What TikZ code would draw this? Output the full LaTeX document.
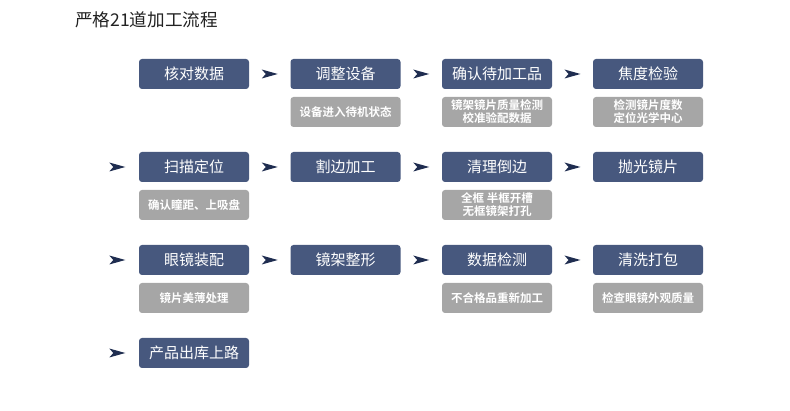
\documentclass[tikz,border=0pt]{standalone}
\usepackage{fontspec}
\setmainfont{Noto Sans CJK SC}
\newfontfamily\cjkb{Noto Sans CJK SC Bold}
\usetikzlibrary{calc}
\definecolor{mainc}{HTML}{47587E}
\definecolor{subc}{HTML}{A6A6A6}
\definecolor{arrc}{HTML}{1F2D50}
\definecolor{titc}{HTML}{222222}
\tikzset{
  mainbox/.style={fill=mainc, rounded corners=3pt, minimum width=110pt, minimum height=30pt, text=white, font=\fontsize{15}{17}\selectfont, inner sep=0pt},
  subbox/.style={fill=subc, rounded corners=3pt, minimum width=110pt, minimum height=30pt, text=white, font=\cjkb\fontsize{11.5}{13}\selectfont, inner sep=0pt, align=center},
}
\newcommand{\arrhead}[1]{\fill[arrc] ($(#1)+(-8,-4.5)$) -- ++(16,4.5) -- ++(-16,4.5) -- ++(4,-4.5) -- cycle;}
\begin{document}
\begin{tikzpicture}[x=1pt,y=-1pt]
\useasboundingbox (0,0) rectangle (790,411);
\node[anchor=west, text=titc, font=\fontsize{17.6}{20}\selectfont, inner sep=0pt] (title) at (75,20) {严格21道加工流程};
% row 1
\node[mainbox] (a1) at (194,74) {核对数据};
\node[mainbox] (a2) at (345.5,74) {调整设备};
\node[mainbox] (a3) at (497,74) {确认待加工品};
\node[mainbox] (a4) at (648,74) {焦度检验};
\node[subbox] (s2) at (345.5,112) {设备进入待机状态};
\node[subbox] (s3) at (497,112) {镜架镜片质量检测\\校准验配数据};
\node[subbox] (s4) at (648,112) {检测镜片度数\\定位光学中心};
% row 2
\node[mainbox] (b1) at (194,167) {扫描定位};
\node[mainbox] (b2) at (345.5,167) {割边加工};
\node[mainbox] (b3) at (497,167) {清理倒边};
\node[mainbox] (b4) at (648,167) {抛光镜片};
\node[subbox] (t1) at (194,205) {确认瞳距、上吸盘};
\node[subbox] (t3) at (497,205) {全框 半框开槽\\无框镜架打孔};
% row 3
\node[mainbox] (c1) at (194,260) {眼镜装配};
\node[mainbox] (c2) at (345.5,260) {镜架整形};
\node[mainbox] (c3) at (497,260) {数据检测};
\node[mainbox] (c4) at (648,260) {清洗打包};
\node[subbox] (u1) at (194,298) {镜片美薄处理};
\node[subbox] (u3) at (497,298) {不合格品重新加工};
\node[subbox] (u4) at (648,298) {检查眼镜外观质量};
% row 4
\node[mainbox] (d1) at (194,353) {产品出库上路};
% arrows
\foreach \r in {a,b,c}{
  \path (\r1.east) -- (\r2.west) coordinate[midway] (\r m1);
  \path (\r2.east) -- (\r3.west) coordinate[midway] (\r m2);
  \path (\r3.east) -- (\r4.west) coordinate[midway] (\r m3);
  \arrhead{\r m1}
  \arrhead{\r m2}
  \arrhead{\r m3}
}
\foreach \r in {b,c,d}{
  \coordinate (\r l) at ($(\r1.west)+(-21.5,0)$);
  \arrhead{\r l}
}
\end{tikzpicture}
\end{document}
